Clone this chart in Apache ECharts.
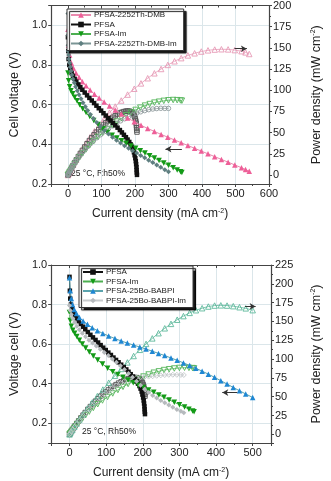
<!DOCTYPE html>
<html><head><meta charset="utf-8">
<script src="https://cdn.jsdelivr.net/npm/echarts@6/dist/echarts.min.js"></script>
<style>html,body{margin:0;padding:0;background:#fff}#c{width:331px;height:481px}</style>
</head><body><div id="c"></div>
<script>
// ---------- TOP CHART DATA ----------
const dmbX = [0,2,5,10,16,24,33,43,54,66,79,93,108,124,141,159,178,198,218,238,258,278,298,318,338,358,378,398,418,438,458,478,498,518,530,541];
const dmbV = [0.98,0.90,0.85,0.81,0.785,0.76,0.738,0.716,0.695,0.674,0.653,0.633,0.613,0.593,0.573,0.553,0.533,0.514,0.496,0.48,0.465,0.45,0.436,0.422,0.408,0.394,0.38,0.366,0.352,0.338,0.324,0.31,0.296,0.282,0.273,0.264];
const dmbP = [0,1.8,4.3,8.1,12.6,18.2,24.4,30.8,37.5,44.5,51.6,58.9,66.2,73.5,80.8,87.9,94.9,101.8,108.1,114.2,120.0,125.1,129.9,134.2,137.9,141.1,143.6,145.7,147.1,148.0,148.4,148.2,147.4,146.1,144.7,142.8];

const pfsaX = [0,1,2,4,7,11,15,20,25,31,37,43,50,57,64,71,78,85,92,99,106,113,120,127,134,141,148,155,161,167,173,178,183,187,191,194,197,199,201,202.5,203.5,204.5,205,205.5,206];
const pfsaV = [0.94,0.87,0.83,0.80,0.78,0.76,0.745,0.73,0.716,0.702,0.688,0.675,0.661,0.647,0.634,0.621,0.608,0.595,0.582,0.57,0.557,0.545,0.532,0.52,0.508,0.496,0.484,0.472,0.46,0.448,0.436,0.424,0.412,0.4,0.388,0.375,0.36,0.345,0.33,0.315,0.3,0.285,0.27,0.258,0.246];
const pfsaP = [0,0.9,1.7,3.2,5.5,8.4,11.2,14.6,17.9,21.8,25.5,29.0,33.1,36.9,40.6,44.1,47.4,50.6,53.5,56.4,59.0,61.6,63.8,66.0,68.1,69.9,71.6,73.2,74.1,74.8,75.4,75.5,75.4,74.8,74.1,72.8,70.9,68.7,66.3,63.8,61.1,58.3,55.4,53.0,50.7];

const imX = [0,2,5,9,14,20,27,35,44,54,65,77,90,104,118,132,146,160,174,188,202,216,230,244,258,272,286,300,314,326,336,340];
const imV = [0.76,0.72,0.69,0.67,0.655,0.638,0.62,0.60,0.58,0.56,0.54,0.52,0.50,0.478,0.46,0.446,0.432,0.418,0.405,0.392,0.38,0.368,0.356,0.343,0.331,0.318,0.306,0.294,0.282,0.271,0.262,0.258];
const imP = [0,1.4,3.5,6.0,9.2,12.8,16.7,21.0,25.5,30.2,35.1,40.0,45.0,49.7,54.3,58.9,63.1,66.9,70.5,73.7,76.8,79.5,81.9,83.7,85.4,86.5,87.5,88.2,88.5,88.3,88.0,87.7];

const dmbImX = [0,0,0.5,1,2,3,5,7,9,12,15,19,23,28,33,39,45,52,59,67,76,86,97,109,121,133,145,157,169,181,193,205,217,229,241,253,265,277,289,300];
const dmbImV = [1.06,0.95,0.90,0.87,0.85,0.83,0.81,0.79,0.77,0.75,0.73,0.71,0.69,0.67,0.65,0.63,0.61,0.59,0.57,0.55,0.53,0.51,0.49,0.47,0.452,0.436,0.421,0.407,0.393,0.38,0.368,0.356,0.344,0.332,0.32,0.308,0.296,0.284,0.272,0.262];
const dmbImP = [0,0,0.5,0.9,1.7,2.5,4.1,5.5,6.9,9.0,11.0,13.5,15.9,18.8,21.5,24.6,27.5,30.7,33.6,36.9,40.3,43.9,47.5,51.2,54.7,58.0,61.0,63.9,66.4,68.8,71.0,73.0,74.6,76.0,77.1,77.9,78.4,78.7,78.6,78.6];

// ---------- BOTTOM CHART DATA ----------
const boX = [0,2,5,8,13,19,27,37,49,62,76,91,107,124,141,158,175,192,209,226,243,260,277,294,311,328,345,362,379,396,413,430,447,464,481,500];
const boV = [0.935,0.87,0.83,0.80,0.775,0.755,0.735,0.717,0.70,0.683,0.668,0.654,0.641,0.628,0.616,0.605,0.595,0.585,0.575,0.564,0.553,0.542,0.53,0.518,0.505,0.492,0.478,0.463,0.448,0.432,0.415,0.398,0.381,0.364,0.348,0.33];
const boP = [0,1.7,4.2,6.4,10.1,14.3,19.8,26.5,34.3,42.3,50.8,59.5,68.6,77.9,86.9,95.6,104.1,112.3,120.2,127.5,134.4,140.9,146.8,152.3,157.1,161.4,164.9,167.6,169.8,171.1,171.4,171.1,170.3,168.9,167.4,165.0];

const boImX = [0,2,5,9,14,20,27,35,44,53,63,73,84,95,106,117,128,139,150,161,172,183,194,205,216,227,238,249,260,271,282,293,304,312];
const boImV = [0.795,0.77,0.75,0.73,0.71,0.69,0.672,0.655,0.637,0.62,0.605,0.59,0.574,0.558,0.542,0.525,0.508,0.49,0.472,0.452,0.432,0.412,0.392,0.372,0.355,0.34,0.327,0.315,0.303,0.292,0.281,0.27,0.26,0.253];
const boImP = [0,1.5,3.8,6.6,9.9,13.8,18.1,22.9,28.0,32.9,38.1,43.1,48.2,53.0,57.5,61.4,65.0,68.1,70.8,72.8,74.3,75.4,76.0,76.3,76.7,77.2,77.8,78.4,78.8,79.1,79.2,79.1,79.0,78.9];

const topNames = ['PFSA-2252Th-DMB','PFSA','PFSA-Im','PFSA-2252Th-DMB-Im'];
const botNames = ['PFSA','PFSA-Im','PFSA-25Bo-BABPI','PFSA-25Bo-BABPI-Im'];
const xTitle = 'Current density (mA cm{sup|-2})';
const yRightTitle = 'Power density (mW cm{sup|-2})';
const noteText = '25 °C, Rh50%';

function pairs(xs, ys){ return xs.map((x,i)=>[x, ys[i]]); }
function isMult(v, step){ const r = v/step; return Math.abs(r - Math.round(r)) < 1e-6; }

const FONT = 'Liberation Sans, Arial, sans-serif';
const gridLineColor = '#dbe6ea';
const axisColor = '#444';
const LBL = 11;

function xAxisBottom(gi, min, max){
  return {type:'value', gridIndex:gi, min:min, max:max, minInterval:100, maxInterval:100,
    name: xTitle, nameLocation:'middle', nameGap:24,
    nameTextStyle:{fontFamily:FONT, fontSize:12, color:'#222', rich:{sup:{fontSize:7, verticalAlign:'top', fontFamily:FONT, color:'#222'}}},
    axisLine:{show:true, onZero:false, lineStyle:{color:axisColor, width:1.2}},
    axisTick:{show:true, length:3, inside:false, lineStyle:{color:axisColor}},
    minorTick:{show:true, splitNumber:2, length:2, lineStyle:{color:axisColor}},
    axisLabel:{fontFamily:FONT, fontSize:LBL, color:'#222', margin:4,
      formatter:v=> (v<0 || !isMult(v,100)) ? '' : String(v)},
    splitLine:{show:true, lineStyle:{color:gridLineColor, width:1}}};
}
function xAxisTop(gi, min, max){
  return {type:'value', gridIndex:gi, position:'top', min:min, max:max, minInterval:100, maxInterval:100,
    axisLine:{show:true, onZero:false, lineStyle:{color:axisColor, width:1.2}},
    axisTick:{show:true, inside:true, length:3, lineStyle:{color:axisColor}},
    minorTick:{show:true, splitNumber:2, length:2, lineStyle:{color:axisColor}},
    axisLabel:{show:false}, splitLine:{show:false}};
}
function yLeft(gi, min, max, title, gap){
  return {type:'value', gridIndex:gi, position:'left', min:min, max:max, minInterval:0.2, maxInterval:0.2,
    name:title, nameLocation:'middle', nameGap:gap, nameRotate:90,
    nameTextStyle:{fontFamily:FONT, fontSize:12.5, color:'#222'},
    axisLine:{show:true, onZero:false, lineStyle:{color:axisColor, width:1.2}},
    axisTick:{show:true, length:3, lineStyle:{color:axisColor}},
    minorTick:{show:true, splitNumber:2, length:2, lineStyle:{color:axisColor}},
    axisLabel:{fontFamily:FONT, fontSize:LBL, color:'#222', margin:4,
      formatter:v=> isMult(v,0.2) ? v.toFixed(1) : ''},
    splitLine:{show:true, lineStyle:{color:gridLineColor, width:1}}};
}
function yRight(gi, min, max, gap){
  return {type:'value', gridIndex:gi, position:'right', min:min, max:max, minInterval:25, maxInterval:25,
    name:yRightTitle, nameLocation:'middle', nameGap:gap, nameRotate:90,
    nameTextStyle:{fontFamily:FONT, fontSize:12.5, color:'#222', rich:{sup:{fontSize:7, verticalAlign:'top', fontFamily:FONT, color:'#222'}}},
    axisLine:{show:true, onZero:false, lineStyle:{color:axisColor, width:1.2}},
    axisTick:{show:true, length:3, lineStyle:{color:axisColor}},
    minorTick:{show:true, splitNumber:2, length:2, lineStyle:{color:axisColor}},
    axisLabel:{fontFamily:FONT, fontSize:LBL, color:'#222', margin:4,
      formatter:v=> (v<0 || !isMult(v,25)) ? '' : String(v)},
    splitLine:{show:false}};
}

function vSeries(name, xs, ys, xi, yi, color, lineColor, symbol, rot, size){
  return {type:'line', name:name, xAxisIndex:xi, yAxisIndex:yi, data:pairs(xs,ys),
    symbol:symbol, symbolRotate:rot||0, symbolSize:size||5, showSymbol:true,
    itemStyle:{color:color}, lineStyle:{color:lineColor||color, width:1}, z:3};
}
function pSeries(name, xs, ys, xi, yi, color, symbol, rot, size){
  return {type:'line', name:name, xAxisIndex:xi, yAxisIndex:yi, data:pairs(xs,ys),
    symbol:symbol, symbolRotate:rot||0, symbolSize:size||5, showSymbol:true,
    itemStyle:{color:'rgba(255,255,255,0)', borderColor:color, borderWidth:0.9},
    lineStyle:{color:color, width:0.8}, z:2};
}
function arrow(from, to){
  return {silent:true, symbol:['none','arrow'], symbolSize:[5,6], animation:false,
    label:{show:false}, lineStyle:{color:'#333', width:1, type:'solid'},
    data:[[{coord:from},{coord:to}]]};
}

const c1 = {pink:'#ee5f98', pinkP:'#e69ab6', black:'#111', blackP:'#555', green:'#139a17', greenP:'#55b55a', gray:'#5f7f80', grayP:'#8f9a9c'};
const c2 = {blue:'#1f87d3', blueLine:'#5aa3ad', blueP:'#5fb99c', lgray:'#b6babd', lgrayP:'#c2c6c8'};

const series = [
  vSeries('PFSA-2252Th-DMB', dmbX, dmbV, 0, 0, c1.pink, '#e98aae', 'triangle', 0, 5.5),
  vSeries('PFSA', pfsaX, pfsaV, 0, 0, c1.black, '#111', 'rect', 0, 4.5),
  vSeries('PFSA-Im', imX, imV, 0, 0, c1.green, '#4caf50', 'triangle', 180, 5.5),
  vSeries('PFSA-2252Th-DMB-Im', dmbImX, dmbImV, 0, 0, c1.gray, '#7a9595', 'diamond', 0, 5),
  Object.assign(pSeries('PFSA-2252Th-DMB', dmbX, dmbP, 0, 1, c1.pinkP, 'triangle', 0, 5.5), {markLine: arrow([497,149],[534,149])}),
  pSeries('PFSA', pfsaX, pfsaP, 0, 1, c1.blackP, 'rect', 0, 4.5),
  pSeries('PFSA-Im', imX, imP, 0, 1, c1.greenP, 'triangle', 180, 5.5),
  pSeries('PFSA-2252Th-DMB-Im', dmbImX, dmbImP, 0, 1, c1.grayP, 'circle', 0, 4.5),
  Object.assign(vSeries('PFSA-2252Th-DMB', [], [], 0, 0, c1.pink), {markLine: arrow([340,0.376],[291,0.376])}),
  vSeries('PFSA', pfsaX, pfsaV, 2, 2, c1.black, '#111', 'rect', 0, 4.5),
  vSeries('PFSA-Im', imX, imV, 2, 2, c1.green, '#4caf50', 'triangle', 180, 5.5),
  vSeries('PFSA-25Bo-BABPI', boX, boV, 2, 2, c2.blue, c2.blueLine, 'triangle', 0, 5.5),
  vSeries('PFSA-25Bo-BABPI-Im', boImX, boImV, 2, 2, c2.lgray, '#c8cbcd', 'diamond', 0, 5),
  pSeries('PFSA', pfsaX, pfsaP, 2, 3, c1.blackP, 'rect', 0, 4.5),
  pSeries('PFSA-Im', imX, imP, 2, 3, c1.greenP, 'triangle', 180, 5.5),
  Object.assign(pSeries('PFSA-25Bo-BABPI', boX, boP, 2, 3, c2.blueP, 'triangle', 0, 5.5), {markLine: arrow([479,170],[508,170])}),
  pSeries('PFSA-25Bo-BABPI-Im', boImX, boImP, 2, 3, c2.lgrayP, 'diamond', 0, 5),
  Object.assign(vSeries('PFSA-25Bo-BABPI', [], [], 2, 2, c2.blue), {markLine: arrow([458,0.355],[417,0.355])})
];

function legend(names, left, top){
  return {show:true, data:names, orient:'vertical', left:left, top:top,
    itemWidth:20, itemHeight:7, itemGap:1.5,
    padding:[2,7,3,3], backgroundColor:'#fff', borderColor:'#333', borderWidth:1,
    shadowColor:'rgba(0,0,0,0.9)', shadowBlur:1, shadowOffsetX:2.5, shadowOffsetY:2.5,
    textStyle:{fontFamily:FONT, fontSize:8, color:'#222', padding:[0,0,0,-2]},
    selectedMode:false};
}

const option = {
  animation:false,
  backgroundColor:'#fff',
  grid:[
    {left:40, top:5, width:241, height:179},
    {left:40, top:265, width:240, height:178}
  ],
  xAxis:[
    xAxisBottom(0, -50, 600), xAxisTop(0, -50, 600),
    xAxisBottom(1, -50, 550), xAxisTop(1, -50, 550)
  ],
  yAxis:[
    yLeft(0, 0.2, 1.1, 'Cell voltage (V)', 27), yRight(0, -10.6, 200, 41),
    yLeft(1, 0.1, 1.0, 'Voltage cell (V)', 27), yRight(1, -11.5, 225, 39)
  ],
  legend:[legend(topNames, 67, 9), legend(botNames, 79, 266)],
  series: series,
  graphic:[
    {type:'text', left:71, top:169, style:{text:noteText, font:'8.5px Liberation Sans, Arial, sans-serif', fill:'#222'}},
    {type:'text', left:82, top:427, style:{text:noteText, font:'8.5px Liberation Sans, Arial, sans-serif', fill:'#222'}}
  ]
};
const chart = echarts.init(document.getElementById('c'), null, {renderer:'canvas'});
chart.setOption(option);
</script></body></html>
